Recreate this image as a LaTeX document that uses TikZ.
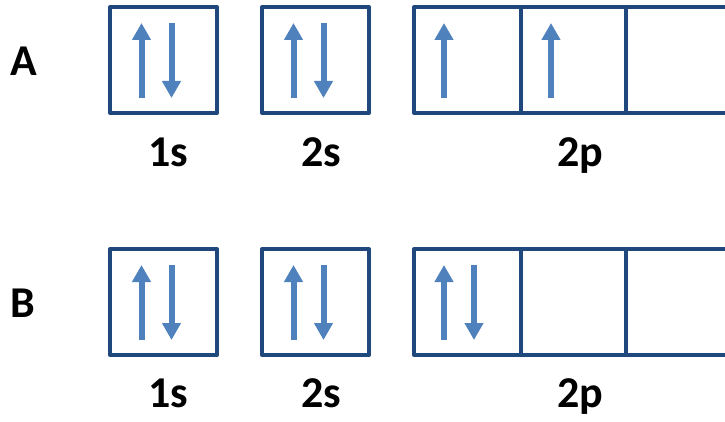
\documentclass[tikz,border=0pt]{standalone}
\usepackage{fontspec}
\setmainfont{Carlito}
\usetikzlibrary{arrows.meta}
\definecolor{boxblue}{HTML}{1F497D}
\definecolor{spinblue}{HTML}{4F81BD}
\tikzset{
  orb/.style={draw=boxblue, line width=4pt, line join=round},
  spin/.style={draw=spinblue, line width=6pt, -{Triangle[width=18pt,length=17pt]}},
  lbl/.style={font=\fontsize{44}{50}\selectfont\bfseries, inner sep=0pt, anchor=base}
}
% up and down electrons: x position, top of box
\newcommand{\spinup}[2]{\draw[spin] (#1,#2+91) -- (#1,#2+16);}
\newcommand{\spindown}[2]{\draw[spin] (#1,#2+16) -- (#1,#2+91);}

\begin{document}
\begin{tikzpicture}[x=1pt,y=-1pt]
\clip (0,0) rectangle (725,422);
\fill[white] (0,0) rectangle (725,422);
% row A
\draw[orb] (110,7) rectangle (217,113);
\draw[orb] (262,7) rectangle (369,113);
\draw[orb] (414,7) rectangle (733,113);
\draw[orb] (521,7) -- (521,113);
\draw[orb] (626,7) -- (626,113);
\spinup{141.5}{7} \spindown{171.5}{7}
\spinup{293.5}{7} \spindown{323.5}{7}
\spinup{444}{7}
\spinup{551}{7}
\node[lbl] (rowA) at (24,76) {A};
\node[lbl] (a1s) at (168,167) {1s};
\node[lbl] (a2s) at (321,167) {2s};
\node[lbl] (a2p) at (580,167) {2p};
% row B
\draw[orb] (110,249) rectangle (217,355);
\draw[orb] (262,249) rectangle (369,355);
\draw[orb] (414,249) rectangle (733,355);
\draw[orb] (521,249) -- (521,355);
\draw[orb] (626,249) -- (626,355);
\spinup{141.5}{249} \spindown{171.5}{249}
\spinup{293.5}{249} \spindown{323.5}{249}
\spinup{444}{249} \spindown{474}{249}
\node[lbl] (rowB) at (23,317) {B};
\node[lbl] (b1s) at (168,407) {1s};
\node[lbl] (b2s) at (321,407) {2s};
\node[lbl] (b2p) at (580,407) {2p};
\end{tikzpicture}
\end{document}
